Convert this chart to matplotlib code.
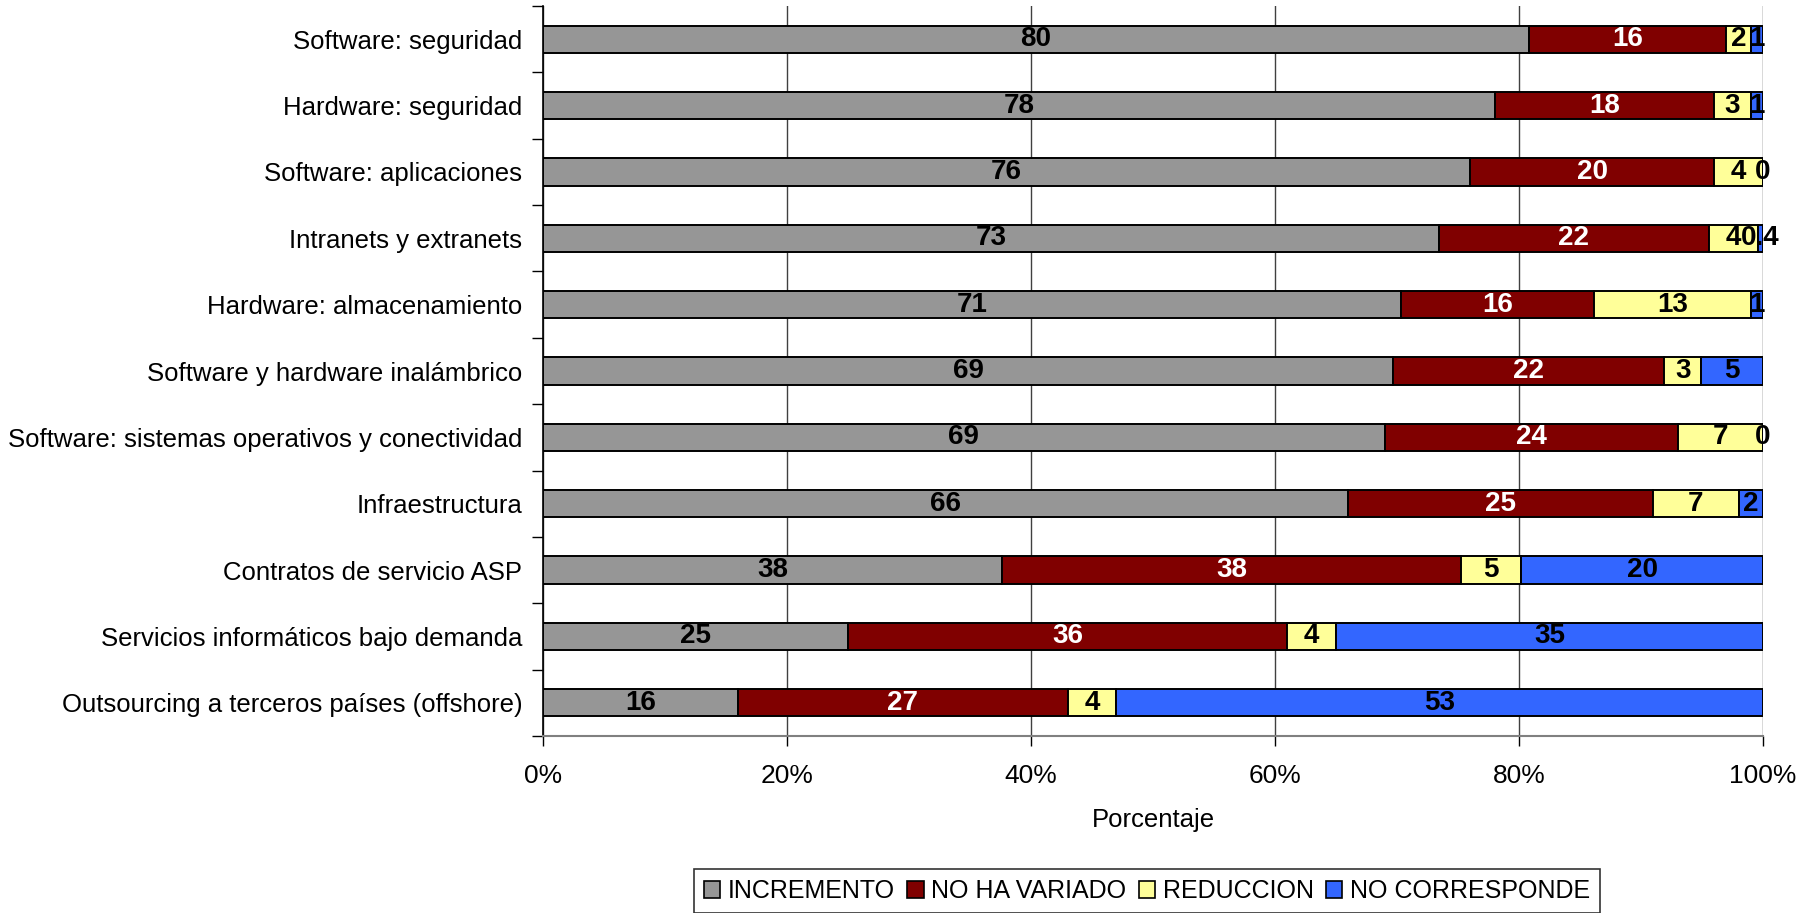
import matplotlib
matplotlib.use("Agg")
import matplotlib.pyplot as plt
import numpy as np
from matplotlib.patches import Patch

plt.rcParams['font.family'] = ['Liberation Sans', 'DejaVu Sans']

categories = [
    "Software: seguridad",
    "Hardware: seguridad",
    "Software: aplicaciones",
    "Intranets y extranets",
    "Hardware: almacenamiento",
    "Software y hardware inalámbrico",
    "Software: sistemas operativos y conectividad",
    "Infraestructura",
    "Contratos de servicio ASP",
    "Servicios informáticos bajo demanda",
    "Outsourcing a terceros países (offshore)",
]
series_names = ["INCREMENTO", "NO HA VARIADO", "REDUCCION", "NO CORRESPONDE"]
incremento = [80, 78, 76, 73, 71, 69, 69, 66, 38, 25, 16]
no_ha_variado = [16, 18, 20, 22, 16, 22, 24, 25, 38, 36, 27]
reduccion = [2, 3, 4, 4, 13, 3, 7, 7, 5, 4, 4]
no_corresponde = [1, 1, 0, 0.4, 1, 5, 0, 2, 20, 35, 53]

colors = ["#969696", "#800000", "#FFFF99", "#3366FF"]
label_colors = ["black", "white", "black", "black"]

data = np.array([incremento, no_ha_variado, reduccion, no_corresponde], dtype=float)
totals = data.sum(axis=0)
pct = data / totals * 100.0

fig = plt.figure(figsize=(18.13, 9.13), dpi=100)
ax = fig.add_axes([543/1813, 1-736/913, (1763-543)/1813, (736-6)/913])

y = np.arange(len(categories))
left = np.zeros(len(categories))
for i in range(4):
    bars = ax.barh(y, pct[i], left=left, height=0.41, color=colors[i],
                   edgecolor="black", linewidth=1.4, zorder=3)
    labels = ["{:g}".format(v) for v in data[i]]
    ax.bar_label(bars, labels=labels, label_type="center", color=label_colors[i],
                 fontsize=20, fontweight="bold", zorder=4)
    left += pct[i]

ax.set_xlim(0, 100)
ax.set_ylim(len(categories) - 0.5, -0.5)

ax.set_xticks([0, 20, 40, 60, 80, 100])
ax.set_xticklabels(["0%", "20%", "40%", "60%", "80%", "100%"], fontsize=19)
ax.tick_params(axis="x", direction="out", length=7, width=1, pad=13, colors="black")
ax.xaxis.grid(True, color="#404040", linewidth=1, zorder=0)

boundaries = np.arange(len(categories) + 1) - 0.5
ax.set_yticks(boundaries)
ax.set_yticklabels([""] * len(boundaries))
ax.set_yticks(y, minor=True)
ax.set_yticklabels(categories, minor=True, fontsize=18.5)
ax.tick_params(axis="y", which="major", direction="out", length=8, width=1)
ax.tick_params(axis="y", which="minor", length=0, pad=15)

for s in ["top", "right"]:
    ax.spines[s].set_visible(False)
ax.spines["bottom"].set_color("#808080")
ax.spines["bottom"].set_linewidth(1.5)
ax.spines["left"].set_color("black")
ax.spines["left"].set_linewidth(1.2)

ax.set_xlabel("Porcentaje", fontsize=18.5, labelpad=14.5)

handles = [Patch(facecolor=c, edgecolor="black", linewidth=1.2) for c in colors]
leg = fig.legend(handles, series_names, loc="upper center",
                 bbox_to_anchor=(1147/1813, 1-869/913), ncol=4, fontsize=18,
                 frameon=True, fancybox=False, edgecolor="black",
                 handlelength=0.65, handleheight=0.65, handletextpad=0.3,
                 columnspacing=0.5, borderpad=0.4, borderaxespad=0)
leg.get_frame().set_linewidth(1.2)

fig.savefig("out.png", dpi=100)
